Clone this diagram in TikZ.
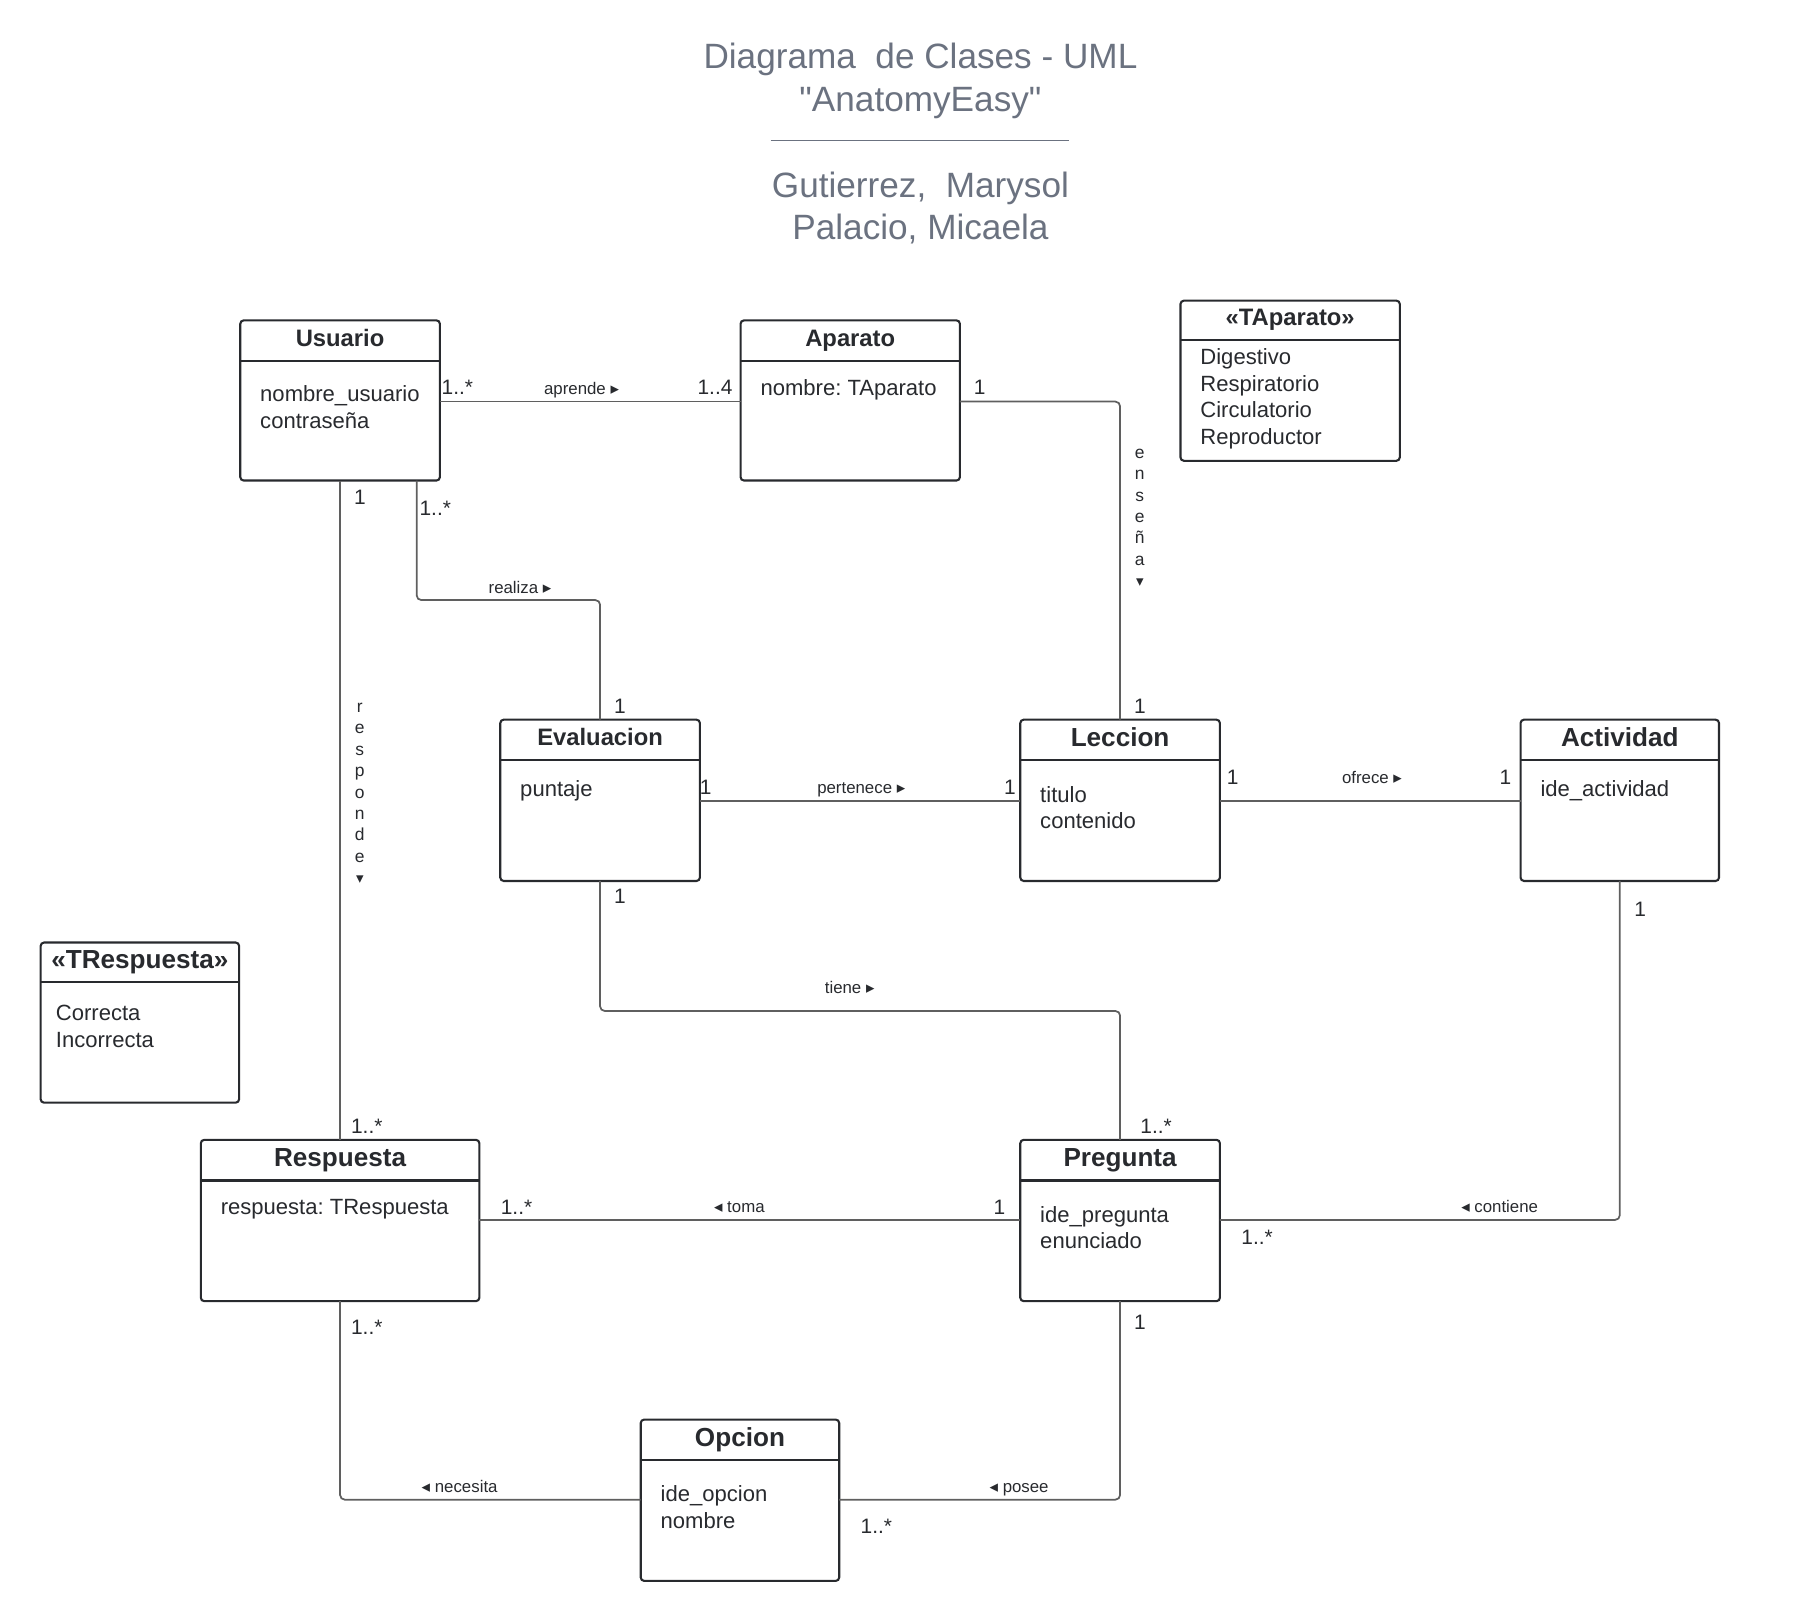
\documentclass[tikz,border=0pt]{standalone}
\usepackage{fontspec}
\setmainfont{Liberation Sans}
\newfontfamily\symf{DejaVu Sans}
\newfontfamily\qfont{Liberation Sans}[Ligatures=TeXOff]
\frenchspacing
\definecolor{titlegray}{RGB}{107,114,128}
\definecolor{boxc}{RGB}{40,42,46}
\definecolor{connc}{RGB}{95,95,95}
\definecolor{txtc}{RGB}{40,42,46}
\newcommand\umlclass[6]{%
  \node[umlbox, minimum width=#4pt, minimum height=#5pt] (#1) at (#2,#3) {};
  \draw[boxline] ([yshift=-#6pt]#1.north west) -- ([yshift=-#6pt]#1.north east);
}
\begin{document}
\begin{tikzpicture}[x=1pt,y=-1pt,
  umlbox/.style={draw=boxc, line width=1.8pt, rounded corners=3pt, anchor=north west, inner sep=0pt, outer sep=0pt},
  boxline/.style={draw=boxc, line width=1.8pt},
  conn/.style={draw=connc, line width=1.5pt, rounded corners=4pt},
  ttltext/.style={font=\fontsize{30.3}{36}\selectfont, text=titlegray, anchor=base, inner sep=0pt},
  ttlA/.style={font=\bfseries\fontsize{20.5}{24}\selectfont, text=txtc, anchor=base, inner sep=0pt},
  ttlB/.style={font=\bfseries\fontsize{22.5}{27}\selectfont, text=txtc, anchor=base, inner sep=0pt},
  attr/.style={font=\fontsize{19}{23}\selectfont, text=txtc, anchor=north west, align=left, inner sep=0pt},
  mult/.style={font=\fontsize{18}{21}\selectfont, text=txtc, anchor=base, inner sep=0pt},
  lbl/.style={font=\fontsize{14.5}{17}\selectfont, text=txtc, anchor=base, inner sep=0pt},
  vcol/.style={font=\fontsize{15}{18.4}\selectfont, text=txtc, align=center, anchor=center, inner sep=0pt}
]
\useasboundingbox (0,0) rectangle (1568,1397);

% ---- title block
\node[ttltext] (t1) at (793,59) {Diagrama\ \ de Clases - UML};
\node[ttltext] (t2) at (793,96) {{\qfont "}AnatomyEasy{\qfont "}};
\coordinate (ruleL) at (664,121);
\coordinate (ruleR) at (921,121);
\draw[titlegray, line width=1.5pt] (ruleL) -- (ruleR);
\node[ttltext] (t3) at (793,170) {Gutierrez,\ \ Marysol};
\node[ttltext] (t4) at (793,206) {Palacio, Micaela};

% ---- classes
\umlclass{usuario}{207}{276}{172}{138}{35}
\umlclass{aparato}{638}{276}{189}{138}{35}
\umlclass{taparato}{1017}{259}{189}{138}{34}
\umlclass{evaluacion}{431}{620}{172}{139}{35}
\umlclass{leccion}{879}{620}{172}{139}{35}
\umlclass{actividad}{1310}{620}{171}{139}{35}
\umlclass{trespuesta}{35}{812}{171}{138}{34}
\umlclass{respuesta}{173}{982}{240}{139}{35}
\umlclass{pregunta}{879}{982}{172}{139}{35}
\umlclass{opcion}{552}{1223}{171}{139}{35}

% ---- connectors
\draw[conn] (usuario.east |- 0,346) -- (aparato.west |- 0,346);
\draw[conn] (aparato.east |- 0,346) -| (leccion.north);
\draw[conn] (usuario.south -| 359,0) -- (359,517) -| (evaluacion.north);
\draw[conn] (usuario.south) -- (respuesta.north);
\draw[conn] (evaluacion.east |- 0,690) -- (leccion.west |- 0,690);
\draw[conn] (leccion.east |- 0,690) -- (actividad.west |- 0,690);
\draw[conn] (evaluacion.south) -- (517,871) -| (pregunta.north);
\draw[conn] (actividad.south) |- (pregunta.east |- 0,1051);
\draw[conn] (respuesta.east |- 0,1051) -- (pregunta.west |- 0,1051);
\draw[conn] (respuesta.south) |- (opcion.west |- 0,1292);
\draw[conn] (pregunta.south) |- (opcion.east |- 0,1292);

% ---- class titles
\node[ttlA] (usuarioT) at (293,298.5) {Usuario};
\node[ttlA] (aparatoT) at (732.5,298.5) {Aparato};
\node[ttlA] (taparatoT) at (1111.5,280.5) {«TAparato»};
\node[ttlA] (evaluacionT) at (517,642.5) {Evaluacion};
\node[ttlB] (leccionT) at (965,643) {Leccion};
\node[ttlB] (actividadT) at (1395.5,643) {Actividad};
\node[ttlB] (trespuestaT) at (120.5,834) {«TRespuesta»};
\node[ttlB] (respuestaT) at (293,1005) {Respuesta};
\node[ttlB] (preguntaT) at (965,1005) {Pregunta};
\node[ttlB] (opcionT) at (637.5,1246) {Opcion};

% ---- attributes
\node[attr] (usuarioA) at (224,332) {nombre\_usuario\\contraseña};
\node[attr] (aparatoA) at (655,327) {nombre: TAparato};
\node[attr] (taparatoA) at (1034,300) {Digestivo\\Respiratorio\\Circulatorio\\Reproductor};
\node[attr] (evaluacionA) at (448,672) {puntaje};
\node[attr] (leccionA) at (896,677) {titulo\\contenido};
\node[attr] (actividadA) at (1327,672) {ide\_actividad};
\node[attr] (trespuestaA) at (48,866) {Correcta\\Incorrecta};
\node[attr] (respuestaA) at (190,1033) {respuesta: TRespuesta};
\node[attr] (preguntaA) at (896,1039) {ide\_pregunta\\enunciado};
\node[attr] (opcionA) at (569,1280) {ide\_opcion\\nombre};

% ---- association labels and multiplicities
\node[mult] (m1) at (394,339.5) {1..*};
\node[lbl] (l1) at (501,340) {aprende {\symf ▸}};
\node[mult] (m2) at (616,339.5) {1..4};

\node[mult] (m3) at (844,339.5) {1};
\node[vcol] (l2) at (982,446) {e\\n\\s\\e\\ñ\\a\\{\symf\fontsize{13}{18.4}\selectfont ▾}};
\node[mult] (m4) at (982,614.5) {1};

\node[mult] (m5) at (375,444.5) {1..*};
\node[lbl] (l3) at (448,511) {realiza {\symf ▸}};
\node[mult] (m6) at (534,614.5) {1};

\node[mult] (m7) at (310,434.5) {1};
\node[vcol] (l4) at (310,683.5) {r\\e\\s\\p\\o\\n\\d\\e\\{\symf\fontsize{13}{18.4}\selectfont ▾}};
\node[mult] (m8) at (316,976.5) {1..*};

\node[mult] (m9) at (608,684.5) {1};
\node[lbl] (l5) at (742,684) {pertenece {\symf ▸}};
\node[mult] (m10) at (870,684.5) {1};

\node[mult] (m11) at (1062,675.5) {1};
\node[lbl] (l6) at (1182,675) {ofrece {\symf ▸}};
\node[mult] (m12) at (1297,675.5) {1};

\node[mult] (m13) at (534,778.5) {1};
\node[lbl] (l7) at (732,856) {tiene {\symf ▸}};
\node[mult] (m14) at (996,976.5) {1..*};

\node[mult] (m15) at (1413,789.5) {1};
\node[lbl] (l8) at (1292,1045) {{\symf ◂} contiene};
\node[mult] (m16) at (1083,1072.5) {1..*};

\node[mult] (m17) at (445,1046.5) {1..*};
\node[lbl] (l9) at (637,1045) {{\symf ◂} toma};
\node[mult] (m18) at (861,1046.5) {1};

\node[mult] (m19) at (316,1149.5) {1..*};
\node[lbl] (l10) at (396,1286) {{\symf ◂} necesita};

\node[mult] (m20) at (982,1145.5) {1};
\node[lbl] (l11) at (878,1286) {{\symf ◂} posee};
\node[mult] (m21) at (755,1321.5) {1..*};
\end{tikzpicture}
\end{document}
